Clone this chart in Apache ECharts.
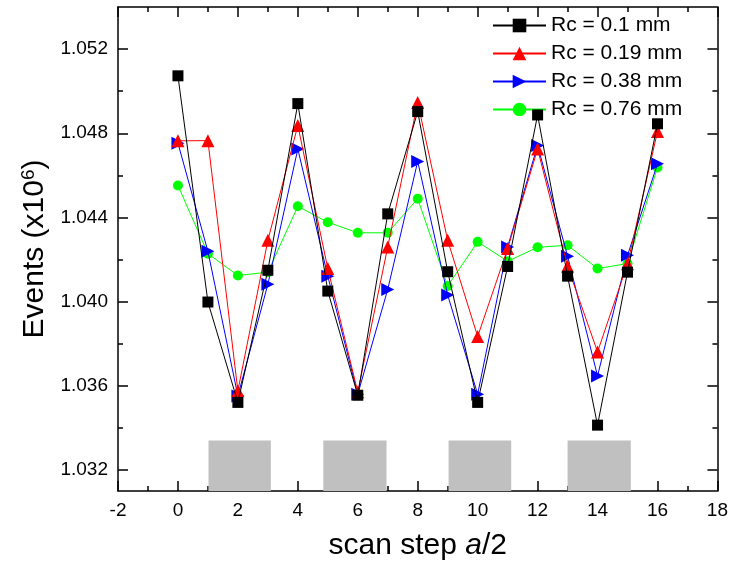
<!DOCTYPE html>
<html>
<head>
<meta charset="utf-8">
<script src="https://cdn.jsdelivr.net/npm/echarts@6/dist/echarts.min.js"></script>
<style>html,body{margin:0;padding:0;background:#fff}#c{width:731px;height:569px}</style>
</head>
<body>
<div id="c"></div>
<script>
// ---- data ----
const xSteps = [0,1,2,3,4,5,6,7,8,9,10,11,12,13,14,15,16];
const seriesNames = ['Rc = 0.1 mm','Rc = 0.19 mm','Rc = 0.38 mm','Rc = 0.76 mm'];
const rc010 = [1.05073,1.03998,1.03521,1.04149,1.04941,1.04050,1.03555,1.04417,1.04903,1.04142,1.03521,1.04167,1.04887,1.04121,1.03413,1.04140,1.04845];
const rc019 = [1.04764,1.04765,1.03576,1.04291,1.04837,1.04157,1.03570,1.04260,1.04946,1.04291,1.03834,1.04252,1.04725,1.04168,1.03761,1.04180,1.04808];
const rc038 = [1.04753,1.04239,1.03552,1.04082,1.04725,1.04121,1.03560,1.04058,1.04666,1.04031,1.03560,1.04260,1.04742,1.04216,1.03647,1.04220,1.04655];
const rc076 = [1.04552,1.04228,1.04124,1.04140,1.04453,1.04377,1.04327,1.04327,1.04489,1.04074,1.04284,1.04192,1.04258,1.04268,1.04157,1.04181,1.04637];
const yMajorTicks = [1.032,1.036,1.040,1.044,1.048,1.052];
const yMinorTicks = [1.034,1.038,1.042,1.046,1.050];
const xMin = -2, xMax = 18, xInterval = 2;
const yMin = 1.031, yMax = 1.054;
const rectStarts = [1.02, 4.85, 9.03, 13.0];
const rectEnds   = [3.10, 6.96, 11.12, 15.11];
const rectTop = 1.0334;

// ---- chart ----
const FONT = 'Liberation Sans';
const chart = echarts.init(document.getElementById('c'), null, {renderer:'canvas'});
const pair = (arr) => xSteps.map((x,i)=>[x, arr[i]]);
const colors = ['#000000','#ff0000','#0000ff','#00ff00'];
const symbols = ['rect','triangle','triangle','circle'];
const sizes = [11,13,13,10];
const rotates = [0,0,-90,0];
const datas = [rc010, rc019, rc038, rc076];

const series = datas.map((d,i)=>({
  name: seriesNames[i], type:'line', data: pair(d),
  symbol: symbols[i], symbolSize: sizes[i], symbolRotate: rotates[i],
  showAllSymbol: true,
  lineStyle:{color:colors[i], width:1},
  itemStyle:{color:colors[i]},
  z: 10 - i,
  animation:false
}));
series[0].markArea = {
  silent:true,
  itemStyle:{color:'#c0c0c0', opacity:1},
  data: rectStarts.map((s,i)=>[{xAxis:s, yAxis:yMin},{xAxis:rectEnds[i], yAxis:rectTop}])
};

const axisLine = {show:true, onZero:false, lineStyle:{color:'#000', width:1.5}};
function yAx(pos, ticks, len, labels){
  return {
    type:'value', position:pos, min:yMin, max:yMax,
    axisLine: labels!==null ? axisLine : {show:false, onZero:false},
    axisTick:{show:true, inside:true, length:len, customValues:ticks, lineStyle:{color:'#000', width:1.5}},
    axisLabel: labels ? {show:true, customValues:ticks, formatter:(v)=>Number(v).toFixed(3), fontFamily:FONT, fontSize:19, color:'#000', margin:10} : {show:false},
    splitLine:{show:false}
  };
}
const yAxes = [
  Object.assign(yAx('left', yMajorTicks, 10, true), {
    name:'Events (x10{sup|6})', nameLocation:'middle', nameGap:64, nameRotate:90,
    nameTextStyle:{fontFamily:FONT, fontSize:30, color:'#000', rich:{sup:{fontFamily:FONT, fontSize:19, verticalAlign:'top', color:'#000'}}}
  }),
  yAx('left', yMinorTicks, 5, null),
  yAx('right', yMajorTicks, 10, false),
  yAx('right', yMinorTicks, 5, null)
];
function xAx(pos, labels){
  return {
    type:'value', position:pos, min:xMin, max:xMax, interval:xInterval,
    axisLine: axisLine,
    axisTick:{show:true, inside:true, length:10, lineStyle:{color:'#000', width:1.5}},
    minorTick:{show:true, splitNumber:2, length:5, lineStyle:{color:'#000', width:1.5}},
    axisLabel: labels ? {show:true, fontFamily:FONT, fontSize:19, color:'#000', margin:10} : {show:false},
    splitLine:{show:false}, minorSplitLine:{show:false}
  };
}
const xAxes = [
  Object.assign(xAx('bottom', true), {
    name:'scan step {i|a}/2', nameLocation:'middle', nameGap:40,
    nameTextStyle:{fontFamily:FONT, fontSize:30, color:'#000', rich:{i:{fontFamily:FONT, fontSize:30, fontStyle:'italic', color:'#000'}}}
  }),
  xAx('top', false)
];

chart.setOption({
  animation:false,
  backgroundColor:'#fff',
  grid:{left:118, right:11, top:7, bottom:78, containLabel:false},
  xAxis: xAxes,
  yAxis: yAxes,
  legend:{
    orient:'vertical', left:487, top:10, itemWidth:53, itemHeight:17, itemGap:7,
    textStyle:{fontFamily:FONT, fontSize:21, color:'#000'},
    data: seriesNames
  },
  series: series
});
</script>
</body>
</html>
